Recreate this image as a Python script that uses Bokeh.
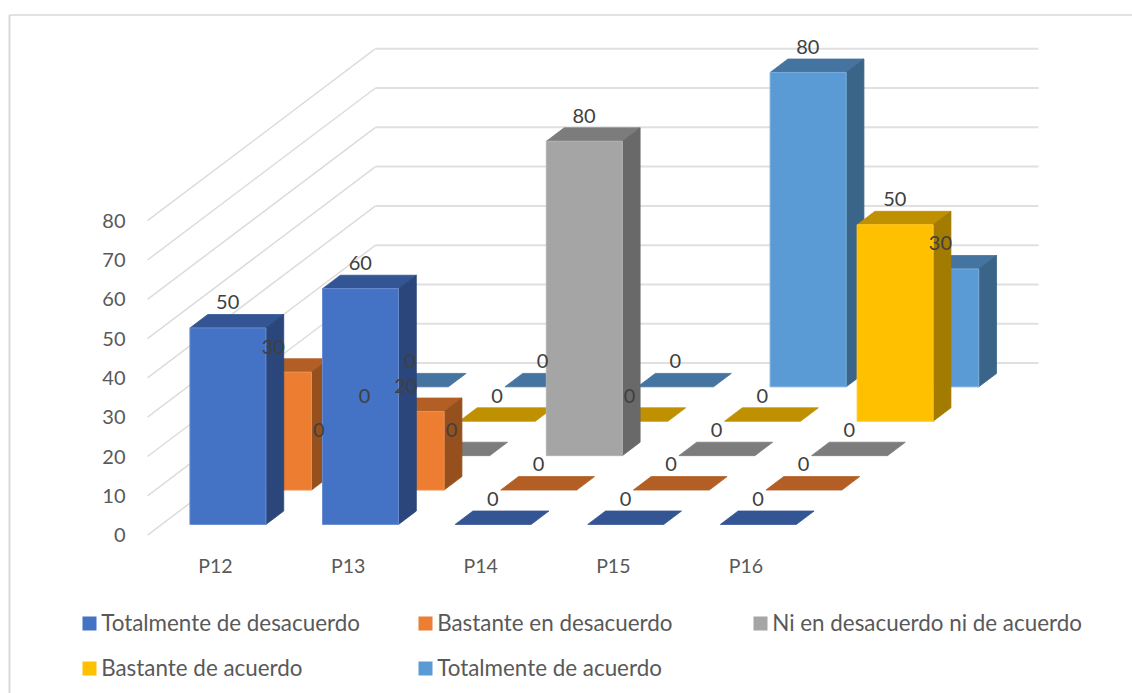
from bokeh.core.properties import value
from bokeh.embed import file_html
from bokeh.models import ColumnDataSource, Range1d
from bokeh.plotting import figure
from bokeh.resources import INLINE

categories = ["P12", "P13", "P14", "P15", "P16"]
series_names = [
    "Totalmente de desacuerdo",
    "Bastante en desacuerdo",
    "Ni en desacuerdo ni de acuerdo",
    "Bastante de acuerdo",
    "Totalmente de acuerdo",
]
totalmente_desacuerdo = [50, 60, 0, 0, 0]
bastante_desacuerdo = [30, 20, 0, 0, 0]
ni_ni = [0, 0, 80, 0, 0]
bastante_acuerdo = [0, 0, 0, 0, 50]
totalmente_acuerdo = [0, 0, 0, 80, 30]
series_values = [totalmente_desacuerdo, bastante_desacuerdo, ni_ni,
                 bastante_acuerdo, totalmente_acuerdo]
value_ticks = [0, 10, 20, 30, 40, 50, 60, 70, 80]

# front, top, side and edge tones for each series
front_colors = ["#4472C4", "#ED7D31", "#A5A5A5", "#FFC000", "#5B9BD5"]
top_colors = ["#335593", "#B25E25", "#7C7C7C", "#BF9000", "#44749F"]
side_colors = ["#2A467A", "#95501E", "#696969", "#A37B00", "#3A6488"]
edge_colors = ["#6A8DD0", "#EE9050", "#B2B2B2", "#FFC926", "#78AEDF"]

FONT = value("Lato")
WIDTH, HEIGHT = 1132, 693

# oblique projection of the 3D chart box onto the page
ORIGIN_X, ORIGIN_Y = 147.0, 534.6
CATEGORY_STEP = 132.6
ROW_DX, ROW_DY = 45.6, 34.4
UNIT_Y = 3.93
BAR_WIDTH = 76.0
BAR_INSET = 28.3
ROW_INSET = 0.31
ROW_DEPTH = 0.39


def project(col, row, val, shift=0.0):
    """Page position of a point at a category offset, depth row and value."""
    x = ORIGIN_X + CATEGORY_STEP * col + ROW_DX * row + shift
    y = ORIGIN_Y - ROW_DY * row - UNIT_Y * val
    return x, y


p = figure(width=WIDTH, height=HEIGHT, output_backend="svg", toolbar_location=None,
           x_range=Range1d(0, WIDTH), y_range=Range1d(HEIGHT, 0),
           min_border=0, outline_line_color=None)
p.axis.visible = False
p.grid.visible = False
p.background_fill_color = "white"
p.border_fill_color = "white"

# chart frame
p.line([9, 9], [HEIGHT, 14.5], line_color="#D9D9D9", line_width=2)
p.line([9, WIDTH], [14.5, 14.5], line_color="#D9D9D9", line_width=1.3)

# value gridlines: side wall then back wall
n_rows = len(series_values)
n_cats = len(categories)
for tick in value_ticks:
    a = project(0, 0, tick)
    b = project(0, n_rows, tick)
    c = project(n_cats, n_rows, tick)
    p.line([a[0], b[0]], [a[1], b[1]], line_color="#DCDCDC", line_width=1.5)
    p.line([b[0], c[0]], [b[1], c[1]], line_color="#E0E0E0", line_width=2)


def add_poly(points, fill, edge, width=1.0):
    p.patch([q[0] for q in points], [q[1] for q in points], fill_color=fill,
            line_color=edge, line_width=width, line_join="round")


# bars, painted from the back row forward
for row in range(n_rows - 1, -1, -1):
    r0 = row + ROW_INSET
    r1 = r0 + ROW_DEPTH
    for col, val in enumerate(series_values[row]):
        x0, x1 = BAR_INSET, BAR_INSET + BAR_WIDTH
        top = [project(col, r0, val, x0), project(col, r0, val, x1),
               project(col, r1, val, x1), project(col, r1, val, x0)]
        add_poly(top, top_colors[row], top_colors[row], 0.8)
        if val > 0:
            side = [project(col, r0, 0, x1), project(col, r1, 0, x1),
                    project(col, r1, val, x1), project(col, r0, val, x1)]
            add_poly(side, side_colors[row], side_colors[row], 0.8)
            front = [project(col, r0, 0, x0), project(col, r0, 0, x1),
                     project(col, r0, val, x1), project(col, r0, val, x0)]
            add_poly(front, front_colors[row], edge_colors[row], 1.0)

# value labels sit above the front edge of each bar top, over all the bars
label_x, label_y, label_text = [], [], []
for row, values in enumerate(series_values):
    for col, val in enumerate(values):
        x, y = project(col, row + ROW_INSET, val, BAR_INSET + BAR_WIDTH / 2)
        label_x.append(x - 0.3)
        label_y.append(y - 25.6)
        label_text.append(str(val))
p.text(x="x", y="y", text="t", source=ColumnDataSource(dict(x=label_x, y=label_y, t=label_text)),
       text_font=FONT, text_font_size="20px", text_color="#404040",
       text_align="center", text_baseline="middle")

# value axis labels
p.text(x=[125] * len(value_ticks),
       y=[ORIGIN_Y - UNIT_Y * t for t in value_ticks],
       text=[str(t) for t in value_ticks],
       text_font=FONT, text_font_size="20px", text_color="#595959",
       text_align="right", text_baseline="middle")

# category labels
p.text(x=[ORIGIN_X + 68 + CATEGORY_STEP * i for i in range(n_cats)],
       y=[565] * n_cats, text=categories,
       text_font=FONT, text_font_size="19.5px", text_color="#595959",
       text_align="center", text_baseline="middle")

# legend laid out in two rows
swatch_x = [82, 418, 753, 82, 418]
swatch_y = [623, 623, 623, 668, 668]
p.rect(x=[s + 7 for s in swatch_x], y=swatch_y, width=14, height=14,
       fill_color=front_colors, line_color=None)
p.text(x=[s + 18.7 for s in swatch_x], y=[s - 1 for s in swatch_y], text=series_names,
       text_font=FONT, text_font_size="22.4px", text_color="#595959",
       text_align="left", text_baseline="middle")

open("out.html", "w").write(file_html(p, INLINE))
